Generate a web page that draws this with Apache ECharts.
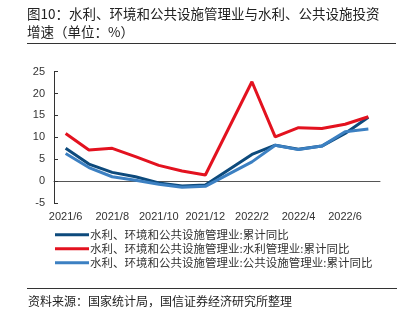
<!DOCTYPE html>
<html><head><meta charset="utf-8">
<script src="https://cdn.jsdelivr.net/npm/echarts@6/dist/echarts.min.js"></script>
<style>html,body{margin:0;padding:0;background:#fff;}#c{width:410px;height:327px;}</style>
</head><body><div id="c"></div>
<script>
const categories = ['2021/6','2021/7','2021/8','2021/9','2021/10','2021/11','2021/12','2022/1','2022/2','2022/3','2022/4','2022/5','2022/6','2022/7'];
const seriesNames = ['水利、环境和公共设施管理业:累计同比','水利、环境和公共设施管理业:水利管理业:累计同比','水利、环境和公共设施管理业:公共设施管理业:累计同比'];
const totalValues = [7.5, 3.9, 2.0, 1.0, -0.4, -1.1, -0.9, null, 6.1, 8.2, 7.3, 8.0, 10.9, 14.6];
const waterValues = [10.9, 7.1, 7.5, 5.6, 3.6, 2.3, 1.4, null, 22.7, 10.1, 12.2, 12.0, 13.0, 14.7];
const publicValues = [6.3, 3.1, 1.0, 0.2, -0.7, -1.4, -1.2, null, 4.4, 8.2, 7.2, 8.0, 11.3, 11.9];
const colors = ['#0d4a7c', '#e3121f', '#3c80c2'];
const FONT = 'Liberation Sans, Noto Sans CJK SC, sans-serif';
const CJK = 'Noto Sans CJK SC, sans-serif';

const chart = echarts.init(document.getElementById('c'), null, {renderer:'canvas'});
const mk = (name, data, color) => ({
  name, type:'line', data, connectNulls:true, symbol:'none', smooth:false,
  lineStyle:{width:3, color}, itemStyle:{color}
});
chart.setOption({
  animation:false,
  backgroundColor:'#fff',
  textStyle:{fontFamily:FONT},
  grid:{left:54, right:30, top:71.7, bottom:124, containLabel:false},
  xAxis:{
    type:'category', data:categories, boundaryGap:true,
    axisLine:{onZero:true, lineStyle:{color:'#555', width:1}},
    axisTick:{inside:true, length:4, interval:1, lineStyle:{color:'#555'}},
    axisLabel:{interval:1, margin:8, color:'#333', fontSize:11, fontFamily:FONT},
    splitLine:{show:false}
  },
  yAxis:{
    type:'value', min:-5, max:25, interval:5,
    axisLine:{show:true, lineStyle:{color:'#333', width:1}},
    axisTick:{show:true, inside:true, length:4, lineStyle:{color:'#333'}},
    axisLabel:{color:'#333', fontSize:11, margin:9, fontFamily:FONT},
    splitLine:{show:false}
  },
  legend:{
    orient:'vertical', left:50, top:224, itemWidth:34, itemHeight:3, itemGap:2.5,
    icon:'rect',
    textStyle:{fontSize:11.5, color:'#333', fontFamily:CJK, padding:[0,0,0,-4]},
    data:seriesNames
  },
  series:[
    mk(seriesNames[0], totalValues, colors[0]),
    mk(seriesNames[1], waterValues, colors[1]),
    mk(seriesNames[2], publicValues, colors[2])
  ],
  graphic:[
    {type:'text', left:27, top:7, style:{text:'图10：水利、环境和公共设施管理业与水利、公共设施投资', font:'13.5px '+CJK, fill:'#222'}},
    {type:'text', left:27, top:25, style:{text:'增速（单位：%）', font:'13.5px '+CJK, fill:'#222'}},
    {type:'line', shape:{x1:27, y1:43.5, x2:396, y2:43.5}, style:{stroke:'#333', lineWidth:1}},
    {type:'line', shape:{x1:27, y1:288.5, x2:397, y2:288.5}, style:{stroke:'#333', lineWidth:1}},
    {type:'text', left:28, top:295, style:{text:'资料来源：国家统计局，国信证券经济研究所整理', font:'12px '+CJK, fill:'#222'}}
  ]
});
</script></body></html>
